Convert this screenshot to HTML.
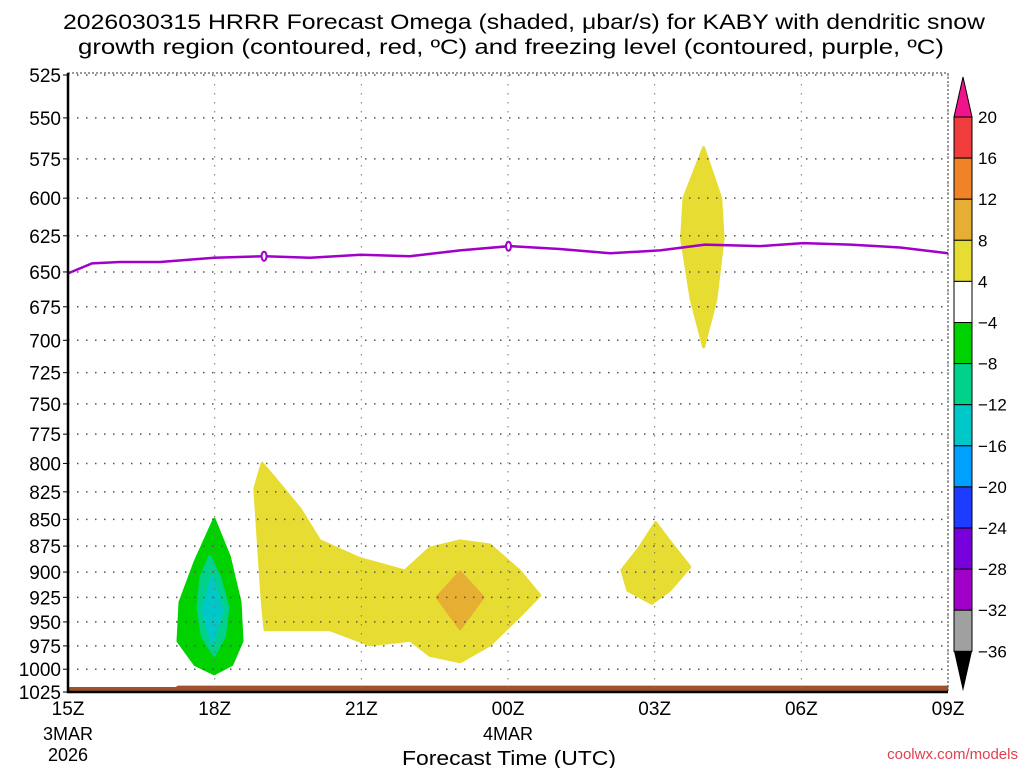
<!DOCTYPE html>
<html><head><meta charset="utf-8"><style>
body{margin:0;background:#fff;width:1024px;height:768px;overflow:hidden}
svg{display:block;font-family:"Liberation Sans","DejaVu Sans",sans-serif}
</style></head><body>
<svg id="chart" width="1024" height="768" viewBox="0 0 1024 768" xmlns="http://www.w3.org/2000/svg">
<text x="63" y="29" font-size="21" textLength="922" lengthAdjust="spacingAndGlyphs" fill="#000">2026030315 HRRR Forecast Omega (shaded, μbar/s) for KABY with dendritic snow</text>
<text x="78" y="54" font-size="21" textLength="866" lengthAdjust="spacingAndGlyphs" fill="#000">growth region (contoured, red, ºC) and freezing level (contoured, purple, ºC)</text>
<g id="fills"></g>
<g id="grid"></g>
<g id="lines"></g>
<g id="axes"></g>
<g id="cbar"></g>
<text x="509" y="765" font-size="20" text-anchor="middle" textLength="214" lengthAdjust="spacingAndGlyphs">Forecast Time (UTC)</text>
<text x="1018" y="759" font-size="15" text-anchor="end" fill="#e04050">coolwx.com/models</text>
</svg>
<script>
const xTicks=[0,3,6,9,12,15,18];
const xTickLabels=["15Z","18Z","21Z","00Z","03Z","06Z","09Z"];
const yTicks=[525,550,575,600,625,650,675,700,725,750,775,800,825,850,875,900,925,950,975,1000,1025];
const frzHours=[0,0.49,1.06,1.88,2.99,4.03,4.95,5.99,6.99,8.02,9.04,10.06,11.09,12.11,13.03,14.16,15.04,16.0,17.02,18.0];
const frzP=[651,644,643,643,640,639,640,638,639,635,632,634,637,635,631,632,630,631,633,637];
const sfcHours=[0,2.2,2.25,18];
const sfcP=[1019.5,1019.5,1018,1018];
const upperYellowH=[13.0,13.35,13.4,13.25,13.0,12.75,12.55,12.6];
const upperYellowP=[568,600,627,670,705,670,627,600];
const greenH=[2.99,3.3,3.52,3.56,3.35,2.99,2.6,2.25,2.29,2.6];
const greenP=[850,885,930,970,995,1005,995,970,930,890];
const teal8H=[2.9,3.1,3.27,3.2,2.99,2.75,2.66,2.72];
const teal8P=[885,905,935,965,985,965,935,905];
const cyanH=[2.95,3.15,2.95,2.76];
const cyanP=[905,938,972,938];
const bigYellowH=[3.97,4.23,4.74,5.15,5.97,6.89,7.4,8.02,8.63,9.24,9.65,9.24,8.63,8.02,7.4,7.0,6.18,5.36,4.03,3.97,3.89,3.82];
const bigYellowP=[800,813,840,870,887,899,877,870,874,899,923,944,974,992,985,969,974,958,958,927,870,822];
const orangeH=[8.02,8.49,8.02,7.55];
const orangeP=[900,925,957,925];
const smallYellowH=[12.02,12.35,12.72,12.31,11.94,11.45,11.33,11.7];
const smallYellowP=[853,873,895,918,931,918,898,876];
const cbarLabels=["20","16","12","8","4","−4","−8","−12","−16","−20","−24","−28","−32","−36"];
const cbarColors=["#f03c3c","#f08228","#e6ae32","#e6dc32","#ffffff","#00d200","#00d28c","#00c8c8","#00a0ff","#1e3cff","#7800dc","#a000c8","#a0a0a0"];

const X0=68,X1=948,Y0=75,Y1=692;
const NS="http://www.w3.org/2000/svg";
const xs=h=>X0+(X1-X0)*h/18;
const ys=p=>Y0+(Y1-Y0)*Math.log(p/525)/Math.log(1025/525);
function mk(tag,parent,attrs){const e=document.createElementNS(NS,tag);for(const k in attrs)e.setAttribute(k,attrs[k]);document.getElementById(parent).appendChild(e);return e;}
function poly(H,P,fill,name){
  const e=mk("polygon","fills",{points:H.map((h,i)=>xs(h).toFixed(1)+","+ys(P[i]).toFixed(1)).join(" "),fill:fill,stroke:fill,"stroke-width":3,"stroke-linejoin":"round"});
  
  
}
poly(upperYellowH,upperYellowP,"#e6dc32","omega-4-8-upper");
poly(bigYellowH,bigYellowP,"#e6dc32","omega-4-8-lower");
poly(orangeH,orangeP,"#e6ae32","omega-8-12");
poly(smallYellowH,smallYellowP,"#e6dc32","omega-4-8-small");
poly(greenH,greenP,"#00d200","omega-neg4-neg8");
poly(teal8H,teal8P,"#00d28c","omega-neg8-neg12");
poly(cyanH,cyanP,"#00c8c8","omega-neg12-neg16");
{
  const pts=sfcHours.map((h,i)=>xs(h)+","+ys(sfcP[i])).concat([xs(18)+","+Y1,xs(0)+","+Y1]).join(" ");
  const g=mk("polygon","fills",{points:pts,fill:"#a0522d"});
  
  
}
yTicks.forEach(p=>{
  const l=mk("line","grid",{x1:X0,x2:X1,y1:ys(p),y2:ys(p),stroke:"#555","stroke-width":1.5,"stroke-dasharray":"1.5 7.5"});
  
  
  const t=mk("text","axes",{x:X0-7,y:ys(p)+7,"font-size":19,"text-anchor":"end"});
  t.textContent=p;
  
  
  const tk=mk("line","axes",{x1:X0-5,x2:X0,y1:ys(p),y2:ys(p),stroke:"#000","stroke-width":1});
  
  
});
xTicks.forEach((h,i)=>{
  if(i>0){const l=mk("line","grid",{x1:xs(h),x2:xs(h),y1:Y0,y2:Y1,stroke:"#777","stroke-width":1,"stroke-dasharray":"1.5 7.5"});
  
  }
  const t=mk("text","axes",{x:xs(h),y:Y1+23,"font-size":19,"text-anchor":"middle"});
  t.textContent=xTickLabels[i];
  
  
});
[["3MAR",0,741],["2026",0,762],["4MAR",9,741]].forEach(a=>{
  const t=mk("text","axes",{x:xs(a[1]),y:a[2]-1,"font-size":18,"text-anchor":"middle"});
  t.textContent=a[0];
  
  
});
{
  const f=mk("rect","axes",{x:X0,y:Y0-2,width:X1-X0,height:Y1-Y0+2,fill:"none",stroke:"#333","stroke-width":1,"stroke-dasharray":"2 2"});
  
  
  const a=mk("path","axes",{d:`M${X0},${Y0-2}V${Y1}H${X1}`,fill:"none",stroke:"#000","stroke-width":2.5});
  
  
}
{
  const d=frzHours.map((h,i)=>(i?"L":"M")+xs(h).toFixed(1)+","+ys(frzP[i]).toFixed(1)).join("");
  const l=mk("path","lines",{d:d,fill:"none",stroke:"#a000c8","stroke-width":2.5,"stroke-linejoin":"round"});
  
  
  [4,9].forEach(h=>{
    let j=0;while(j<frzHours.length-1&&frzHours[j+1]<h)j++;
    const f=(h-frzHours[j])/(frzHours[j+1]-frzHours[j]);const p=frzP[j]+f*(frzP[j+1]-frzP[j]);
    const e=mk("ellipse","lines",{cx:xs(h)+0.5,cy:ys(p),rx:2.5,ry:4.5,fill:"#fff",stroke:"#a000c8","stroke-width":2});
    
    
  });
}
{
  const cx=954,cw=18,top=117,step=41.1;
  const up=mk("polygon","cbar",{points:`${cx},${top} ${cx+cw/2},${top-40} ${cx+cw},${top}`,fill:"#f0148c",stroke:"#000","stroke-width":1});
  
  
  cbarColors.forEach((c,i)=>{
    const r=mk("rect","cbar",{x:cx,y:top+i*step,width:cw,height:step,fill:c,stroke:"#000","stroke-width":1});
    
    
  });
  const bot=top+cbarColors.length*step;
  const dn=mk("polygon","cbar",{points:`${cx},${bot} ${cx+cw/2},${bot+40} ${cx+cw},${bot}`,fill:"#000"});
  
  
  cbarLabels.forEach((s,i)=>{
    const t=mk("text","cbar",{x:978,y:top+i*step+6,"font-size":17});
    t.textContent=s;
    
    
  });
}
</script>
</body></html>
